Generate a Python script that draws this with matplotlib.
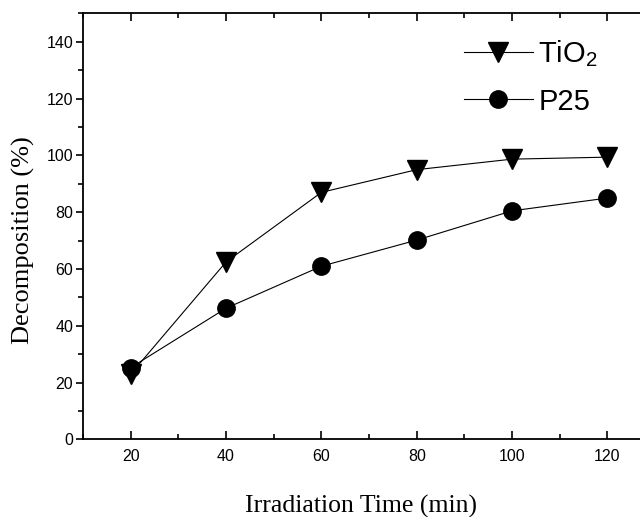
import matplotlib.pyplot as plt
from matplotlib.ticker import MultipleLocator

plt.rcParams['mathtext.default'] = 'regular'

time_min = [20, 40, 60, 80, 100, 120]
tio2 = [23, 62.5, 87, 95, 98.7, 99.4]
p25 = [25.3, 46.2, 61, 70.2, 80.5, 85]

fig = plt.figure(figsize=(6.4, 5.17), dpi=100)
ax = fig.add_axes([0.1297, 0.150, 0.894, 0.824])

ax.plot(time_min, tio2, color='black', lw=0.8, marker='v', markersize=15, label='TiO$_2$')
ax.plot(time_min, p25, color='black', lw=0.8, marker='o', markersize=12.5, label='P25')

ax.set_xlim(10, 130)
ax.set_ylim(0, 150)
ax.xaxis.set_major_locator(MultipleLocator(20))
ax.xaxis.set_minor_locator(MultipleLocator(10))
ax.yaxis.set_minor_locator(MultipleLocator(10))
ax.set_yticks(range(0, 141, 20))

ax.tick_params(axis='x', which='both', direction='in', top=True, width=1.2, pad=7)
ax.tick_params(axis='x', which='major', length=6)
ax.tick_params(axis='x', which='minor', length=3.5)
ax.tick_params(axis='y', which='both', direction='out', width=1.2, pad=2)
ax.tick_params(axis='y', which='major', length=5)
ax.tick_params(axis='y', which='minor', length=3.5)
for lab in ax.get_xticklabels() + ax.get_yticklabels():
    lab.set_fontfamily('Liberation Sans')
    lab.set_fontsize(11.5)

for s in ax.spines.values():
    s.set_linewidth(1.3)

ax.set_xlabel('Irradiation Time (min)', family='Liberation Serif', fontsize=18.5)
ax.set_ylabel('Decomposition (%)', family='Liberation Serif', fontsize=19)
ax.xaxis.set_label_coords(361 / 640, 1 - 506 / 517, transform=fig.transFigure)
ax.xaxis.label.set_va('center')
ax.yaxis.set_label_coords(23 / 640, 1 - 240 / 517, transform=fig.transFigure)
ax.yaxis.label.set_va('center')

ax.legend(loc='upper left', bbox_to_anchor=(0.666, 0.9425), frameon=False,
          prop={'family': 'Liberation Sans', 'size': 21}, handlelength=2.35,
          handletextpad=0.2, labelspacing=0.65, borderpad=0, borderaxespad=0)

fig.savefig('out.png', dpi=100)
